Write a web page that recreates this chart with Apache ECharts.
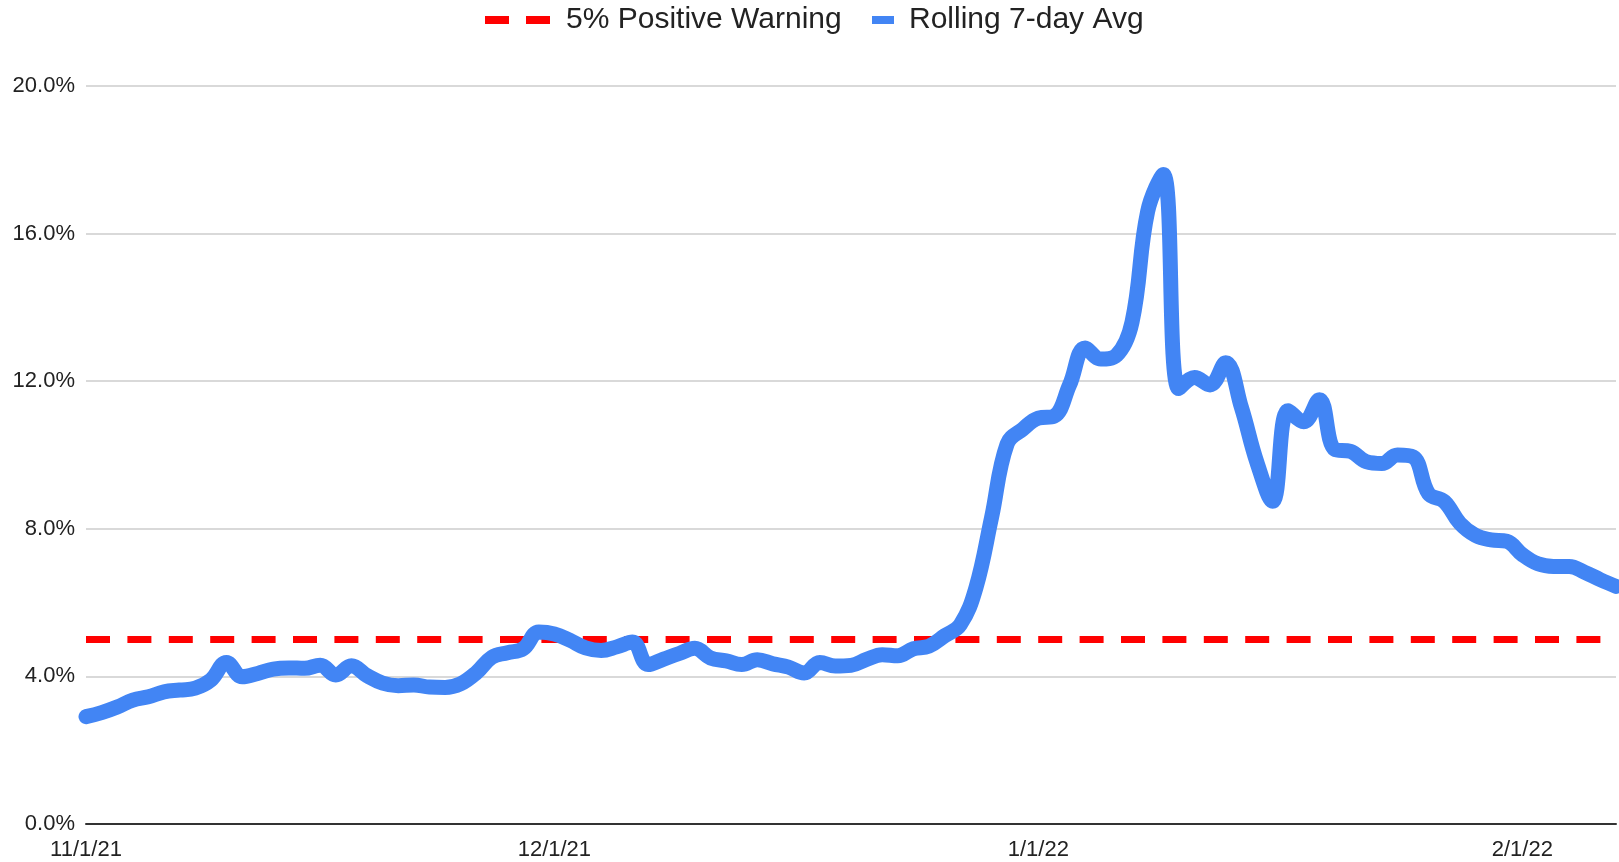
<!DOCTYPE html>
<html>
<head>
<meta charset="utf-8">
<title>Rolling 7-day Avg</title>
<script src="https://cdn.jsdelivr.net/npm/echarts@6/dist/echarts.min.js"></script>
<style>
  html, body { margin: 0; padding: 0; background: #ffffff; }
  #chart { width: 1619px; height: 862px; }
</style>
</head>
<body>
<div id="chart"></div>
<script>
// Daily test-positivity rolling average, 11/1/21 through 2/7/22 (percent)
const startDate = { year: 2021, month: 11, day: 1 };
const dayCount = 99;

const rollingAvg = [
  2.91, 3.02, 3.17, 3.36, 3.45, 3.58, 3.63, 3.68, 3.90, 4.38,
  3.99, 4.08, 4.20, 4.23, 4.22, 4.30, 4.04, 4.29, 4.02, 3.82,
  3.75, 3.77, 3.71, 3.70, 3.80, 4.10, 4.52, 4.64, 4.75, 5.20,
  5.15, 4.98, 4.77, 4.70, 4.80, 4.93, 4.32, 4.47, 4.62, 4.76,
  4.50, 4.42, 4.32, 4.45, 4.34, 4.25, 4.09, 4.38, 4.28, 4.30,
  4.46, 4.59, 4.56, 4.75, 4.82, 5.10, 5.40, 6.40, 8.30, 10.30,
  10.70, 11.00, 11.05, 11.90, 12.90, 12.60, 12.70, 13.60, 16.60, 17.60,
  11.80, 12.10, 11.90, 12.50, 11.30, 9.80, 8.75, 11.20, 10.90, 11.50,
  10.15, 10.10, 9.82, 9.77, 10.00, 9.95, 8.95, 8.74, 8.15, 7.82,
  7.70, 7.66, 7.30, 7.05, 6.98, 6.98, 6.82, 6.62, 6.44
];

// Threshold level for the warning line (percent)
const warningLevel = 5;

const seriesNames = ['5% Positive Warning', 'Rolling 7-day Avg'];
const yTicks = { min: 0, max: 20, interval: 4 };

// Build M/D/YY category labels, one per day
const dates = [];
{
  const d = new Date(startDate.year, startDate.month - 1, startDate.day);
  for (let i = 0; i < dayCount; i++) {
    dates.push((d.getMonth() + 1) + '/' + d.getDate() + '/' + String(d.getFullYear()).slice(2));
    d.setDate(d.getDate() + 1);
  }
}
const warningData = dates.map(() => warningLevel);

const FONT = '"Liberation Sans", Arial, Helvetica, sans-serif';
const RED = '#ff0000';
const BLUE = '#4285f4';

const chart = echarts.init(document.getElementById('chart'), null, { renderer: 'canvas' });

chart.setOption({
  animation: false,
  backgroundColor: '#ffffff',
  textStyle: { fontFamily: FONT },
  legend: [
    {
      data: [{ name: seriesNames[0], icon: 'path://M0,0h24v8h-24z M41,0h24v8h-24z' }],
      left: 485,
      top: 5,
      padding: 0,
      itemWidth: 65,
      itemHeight: 8,
      selectedMode: false,
      textStyle: { fontFamily: FONT, fontSize: 30, color: '#222222', padding: [0, 0, 0, 11] }
    },
    {
      data: [{ name: seriesNames[1], icon: 'rect' }],
      left: 872,
      top: 5,
      padding: 0,
      itemWidth: 22,
      itemHeight: 8,
      selectedMode: false,
      textStyle: { fontFamily: FONT, fontSize: 30, color: '#222222', padding: [0, 0, 0, 10] }
    }
  ],
  grid: { left: 86, right: 3, top: 86, bottom: 38 },
  xAxis: {
    type: 'category',
    data: dates,
    boundaryGap: false,
    axisLine: { show: true, lineStyle: { color: '#333333', width: 2 } },
    axisTick: { show: false },
    splitLine: { show: false },
    axisLabel: {
      interval: (index, value) => value.split('/')[1] === '1',
      hideOverlap: false,
      margin: 15,
      fontFamily: FONT,
      fontSize: 22,
      color: '#222222'
    }
  },
  yAxis: {
    type: 'value',
    min: yTicks.min,
    max: yTicks.max,
    interval: yTicks.interval,
    axisLine: { show: false },
    axisTick: { show: false },
    splitLine: { lineStyle: { color: '#cccccc', width: 1.5 } },
    axisLabel: {
      formatter: (v) => v.toFixed(1) + '%',
      margin: 11,
      fontFamily: FONT,
      fontSize: 22,
      color: '#222222'
    }
  },
  series: [
    {
      name: seriesNames[0],
      type: 'line',
      data: warningData,
      showSymbol: false,
      symbol: 'none',
      silent: true,
      color: RED,
      lineStyle: { color: RED, width: 7, type: [24, 17.4], cap: 'butt' },
      z: 2
    },
    {
      name: seriesNames[1],
      type: 'line',
      data: rollingAvg,
      smooth: 0.4,
      showSymbol: false,
      symbol: 'none',
      color: BLUE,
      lineStyle: { color: BLUE, width: 15, cap: 'round', join: 'round' },
      z: 3
    }
  ]
});
</script>
</body>
</html>
